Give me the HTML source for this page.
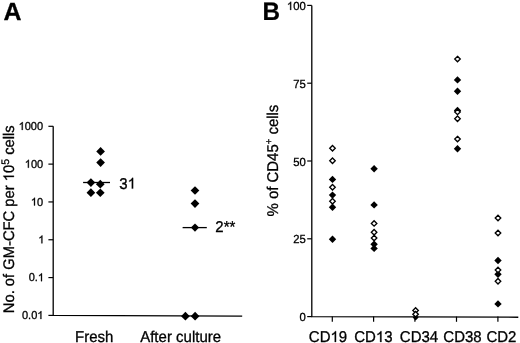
<!DOCTYPE html>
<html><head><meta charset="utf-8"><style>
html,body{margin:0;padding:0;background:#fff;width:520px;height:343px;overflow:hidden}
svg{display:block}
text{font-family:"Liberation Sans",sans-serif;fill:#000;stroke:#000;font-kerning:none;white-space:pre;text-rendering:geometricPrecision}
svg{will-change:transform}
.h{fill-opacity:0;stroke-opacity:0}
</style></head><body>
<svg width="520" height="343" viewBox="0 0 520 343">
<path d="M332.50,175.70L336.20,179.40L332.50,183.10L328.80,179.40Z" fill="#000"/>
<path d="M332.50,191.40L336.20,195.10L332.50,198.80L328.80,195.10Z" fill="#000"/>
<path d="M332.50,203.60L336.20,207.30L332.50,211.00L328.80,207.30Z" fill="#000"/>
<path d="M332.50,235.50L336.20,239.20L332.50,242.90L328.80,239.20Z" fill="#000"/>
<path d="M374.10,165.00L377.80,168.70L374.10,172.40L370.40,168.70Z" fill="#000"/>
<path d="M374.10,201.20L377.80,204.90L374.10,208.60L370.40,204.90Z" fill="#000"/>
<path d="M374.10,240.60L377.80,244.30L374.10,248.00L370.40,244.30Z" fill="#000"/>
<path d="M374.10,244.70L377.80,248.40L374.10,252.10L370.40,248.40Z" fill="#000"/>
<path d="M415.60,314.60L418.60,317.60L415.60,320.60L412.60,317.60Z" fill="#000"/>
<path d="M457.50,76.20L461.20,79.90L457.50,83.60L453.80,79.90Z" fill="#000"/>
<path d="M457.50,87.60L461.20,91.30L457.50,95.00L453.80,91.30Z" fill="#000"/>
<path d="M457.50,106.80L461.20,110.50L457.50,114.20L453.80,110.50Z" fill="#000"/>
<path d="M457.50,145.10L461.20,148.80L457.50,152.50L453.80,148.80Z" fill="#000"/>
<path d="M498.00,256.80L501.70,260.50L498.00,264.20L494.30,260.50Z" fill="#000"/>
<path d="M498.00,270.60L501.70,274.30L498.00,278.00L494.30,274.30Z" fill="#000"/>
<path d="M498.00,300.20L501.70,303.90L498.00,307.60L494.30,303.90Z" fill="#000"/>
<path d="M332.50,145.45L335.25,148.20L332.50,150.95L329.75,148.20Z" fill="#fff" stroke="#000" stroke-width="1.35"/>
<path d="M332.50,157.95L335.25,160.70L332.50,163.45L329.75,160.70Z" fill="#fff" stroke="#000" stroke-width="1.35"/>
<path d="M332.50,184.55L335.25,187.30L332.50,190.05L329.75,187.30Z" fill="#fff" stroke="#000" stroke-width="1.35"/>
<path d="M332.50,198.45L335.25,201.20L332.50,203.95L329.75,201.20Z" fill="#fff" stroke="#000" stroke-width="1.35"/>
<path d="M374.10,220.65L376.85,223.40L374.10,226.15L371.35,223.40Z" fill="#fff" stroke="#000" stroke-width="1.35"/>
<path d="M374.10,229.45L376.85,232.20L374.10,234.95L371.35,232.20Z" fill="#fff" stroke="#000" stroke-width="1.35"/>
<path d="M374.10,235.35L376.85,238.10L374.10,240.85L371.35,238.10Z" fill="#fff" stroke="#000" stroke-width="1.35"/>
<path d="M415.60,307.65L418.35,310.40L415.60,313.15L412.85,310.40Z" fill="#fff" stroke="#000" stroke-width="1.35"/>
<path d="M415.60,311.55L418.35,314.30L415.60,317.05L412.85,314.30Z" fill="#fff" stroke="#000" stroke-width="1.35"/>
<path d="M457.50,56.35L460.25,59.10L457.50,61.85L454.75,59.10Z" fill="#fff" stroke="#000" stroke-width="1.35"/>
<path d="M457.50,109.15L460.25,111.90L457.50,114.65L454.75,111.90Z" fill="#fff" stroke="#000" stroke-width="1.35"/>
<path d="M457.50,116.05L460.25,118.80L457.50,121.55L454.75,118.80Z" fill="#fff" stroke="#000" stroke-width="1.35"/>
<path d="M457.50,136.35L460.25,139.10L457.50,141.85L454.75,139.10Z" fill="#fff" stroke="#000" stroke-width="1.35"/>
<path d="M498.00,215.25L500.75,218.00L498.00,220.75L495.25,218.00Z" fill="#fff" stroke="#000" stroke-width="1.35"/>
<path d="M498.00,230.25L500.75,233.00L498.00,235.75L495.25,233.00Z" fill="#fff" stroke="#000" stroke-width="1.35"/>
<path d="M498.00,267.15L500.75,269.90L498.00,272.65L495.25,269.90Z" fill="#fff" stroke="#000" stroke-width="1.35"/>
<path d="M498.00,278.45L500.75,281.20L498.00,283.95L495.25,281.20Z" fill="#fff" stroke="#000" stroke-width="1.35"/>
<path d="M53.2,126.3V315.4L242.2,316.1" fill="none" stroke="#000" stroke-width="1.3"/>
<path d="M48.4,126.30H53.2" stroke="#000" stroke-width="1.2"/>
<path d="M48.4,164.12H53.2" stroke="#000" stroke-width="1.2"/>
<path d="M48.4,201.94H53.2" stroke="#000" stroke-width="1.2"/>
<path d="M48.4,239.76H53.2" stroke="#000" stroke-width="1.2"/>
<path d="M48.4,277.58H53.2" stroke="#000" stroke-width="1.2"/>
<path d="M48.4,315.40H53.2" stroke="#000" stroke-width="1.2"/>
<path d="M100.60,147.05L104.95,151.40L100.60,155.75L96.25,151.40Z" fill="#000"/>
<path d="M100.60,158.25L104.95,162.60L100.60,166.95L96.25,162.60Z" fill="#000"/>
<path d="M90.90,188.35L95.25,192.70L90.90,197.05L86.55,192.70Z" fill="#000"/>
<path d="M100.30,188.40L104.65,192.75L100.30,197.10L95.95,192.75Z" fill="#000"/>
<path d="M100.30,179.85L104.65,184.20L100.30,188.55L95.95,184.20Z" fill="#000"/>
<path d="M90.90,178.25L95.25,182.60L90.90,186.95L86.55,182.60Z" fill="#000"/>
<path d="M83.1,182.5H110.0" stroke="#000" stroke-width="1.3"/>
<path d="M195.00,186.15L199.35,190.50L195.00,194.85L190.65,190.50Z" fill="#000"/>
<path d="M195.00,199.25L199.35,203.60L195.00,207.95L190.65,203.60Z" fill="#000"/>
<path d="M185.40,311.85L189.75,316.20L185.40,320.55L181.05,316.20Z" fill="#000"/>
<path d="M195.10,311.85L199.45,316.20L195.10,320.55L190.75,316.20Z" fill="#000"/>
<path d="M182.6,227.6H206.8" stroke="#000" stroke-width="1.3"/>
<path d="M195.00,223.50L199.10,227.60L195.00,231.70L190.90,227.60Z" fill="#000"/>
<path d="M311.8,5.4V316.6L518.3,317.25" fill="none" stroke="#000" stroke-width="1.3"/>
<path d="M307.2,316.60H311.8" stroke="#000" stroke-width="1.2"/>
<path d="M307.2,238.80H311.8" stroke="#000" stroke-width="1.2"/>
<path d="M307.2,161.00H311.8" stroke="#000" stroke-width="1.2"/>
<path d="M307.2,83.20H311.8" stroke="#000" stroke-width="1.2"/>
<path d="M307.2,5.40H311.8" stroke="#000" stroke-width="1.2"/>
<path d="M332.3,316.6V321.8" stroke="#000" stroke-width="1.2"/>
<path d="M373.6,316.6V321.8" stroke="#000" stroke-width="1.2"/>
<path d="M414.9,316.6V321.8" stroke="#000" stroke-width="1.2"/>
<path d="M456.5,316.6V321.8" stroke="#000" stroke-width="1.2"/>
<path d="M497.9,316.6V321.8" stroke="#000" stroke-width="1.2"/>
<text transform="translate(3.60,19.95)" x="0.000" stroke-width="0.3"><tspan font-size="24.9" font-weight="bold">A</tspan></text>
<text transform="translate(262.50,19.70) scale(1,1.0412)" x="0.000" stroke-width="0.2"><tspan font-size="24.3" font-weight="bold">B</tspan></text>
<text transform="translate(43.10,129.90) scale(1,1.0412)" x="-24.471" stroke-width="0.3"><tspan font-size="11"><tspan class="h">1</tspan>000</tspan></text>
<path transform="translate(43.10,129.90) scale(1,1.0412)" d="M-20.37 0H-21.34V-5.9Q-21.69 -5.58 -21.97 -5.42Q-22.26 -5.26 -22.54 -5.1Q-22.83 -4.94 -23.28 -4.78V-5.68Q-22.47 -6.04 -22.16 -6.3Q-21.86 -6.56 -21.56 -6.82Q-21.25 -7.08 -21 -7.57H-20.37Z" fill="#000" stroke="#000" stroke-width="0.3"/>
<text transform="translate(43.10,167.72) scale(1,1.0412)" x="-18.353" stroke-width="0.3"><tspan font-size="11"><tspan class="h">1</tspan>00</tspan></text>
<path transform="translate(43.10,167.72) scale(1,1.0412)" d="M-14.25 0H-15.22V-5.9Q-15.57 -5.58 -15.86 -5.42Q-16.14 -5.26 -16.42 -5.1Q-16.71 -4.94 -17.16 -4.78V-5.68Q-16.35 -6.04 -16.05 -6.3Q-15.74 -6.56 -15.44 -6.82Q-15.14 -7.08 -14.88 -7.57H-14.25Z" fill="#000" stroke="#000" stroke-width="0.3"/>
<text transform="translate(43.10,205.54) scale(1,1.0412)" x="-12.235" stroke-width="0.3"><tspan font-size="11"><tspan class="h">1</tspan>0</tspan></text>
<path transform="translate(43.10,205.54) scale(1,1.0412)" d="M-8.14 0H-9.1V-5.9Q-9.45 -5.58 -9.74 -5.42Q-10.02 -5.26 -10.31 -5.1Q-10.59 -4.94 -11.04 -4.78V-5.68Q-10.23 -6.04 -9.93 -6.3Q-9.62 -6.56 -9.32 -6.82Q-9.02 -7.08 -8.77 -7.57H-8.14Z" fill="#000" stroke="#000" stroke-width="0.3"/>
<text transform="translate(44.40,243.36) scale(1,1.0412)" x="-6.118" stroke-width="0.3"><tspan font-size="11"><tspan class="h">1</tspan></tspan></text>
<path transform="translate(44.40,243.36) scale(1,1.0412)" d="M-2.02 0H-2.99V-5.9Q-3.34 -5.58 -3.62 -5.42Q-3.9 -5.26 -4.19 -5.1Q-4.47 -4.94 -4.93 -4.78V-5.68Q-4.11 -6.04 -3.81 -6.3Q-3.51 -6.56 -3.2 -6.82Q-2.9 -7.08 -2.65 -7.57H-2.02Z" fill="#000" stroke="#000" stroke-width="0.3"/>
<text transform="translate(44.00,281.18) scale(1,1.0412)" x="-15.292" stroke-width="0.3"><tspan font-size="11">0.<tspan class="h">1</tspan></tspan></text>
<path transform="translate(44.00,281.18) scale(1,1.0412)" d="M-2.02 0H-2.99V-5.9Q-3.34 -5.58 -3.62 -5.42Q-3.9 -5.26 -4.19 -5.1Q-4.47 -4.94 -4.93 -4.78V-5.68Q-4.11 -6.04 -3.81 -6.3Q-3.51 -6.56 -3.2 -6.82Q-2.9 -7.08 -2.65 -7.57H-2.02Z" fill="#000" stroke="#000" stroke-width="0.3"/>
<text transform="translate(43.40,319.00) scale(1,1.0412)" x="-21.409" stroke-width="0.3"><tspan font-size="11">0.0<tspan class="h">1</tspan></tspan></text>
<path transform="translate(43.40,319.00) scale(1,1.0412)" d="M-2.02 0H-2.99V-5.9Q-3.34 -5.58 -3.62 -5.42Q-3.9 -5.26 -4.19 -5.1Q-4.47 -4.94 -4.93 -4.78V-5.68Q-4.11 -6.04 -3.81 -6.3Q-3.51 -6.56 -3.2 -6.82Q-2.9 -7.08 -2.65 -7.57H-2.02Z" fill="#000" stroke="#000" stroke-width="0.3"/>
<text transform="translate(13.90,313.20) rotate(-90) scale(1,1.0412)" x="0.000" stroke-width="0.3"><tspan font-size="14.75">No. of GM-CFC per <tspan class="h">1</tspan>0</tspan><tspan font-size="10.5" dy="-4.898">5</tspan><tspan font-size="14.75" dy="4.898"> cells</tspan></text>
<path transform="translate(13.90,313.20) rotate(-90) scale(1,1.0412)" d="M137.45 0H136.15V-7.91Q135.68 -7.48 135.3 -7.27Q134.92 -7.05 134.54 -6.84Q134.15 -6.63 133.55 -6.41V-7.61Q134.64 -8.1 135.04 -8.45Q135.45 -8.8 135.86 -9.14Q136.26 -9.49 136.6 -10.15H137.45Z" fill="#000" stroke="#000" stroke-width="0.3"/>
<text transform="translate(75.00,341.70) scale(1,1.0412)" x="0.000" stroke-width="0.3"><tspan font-size="15">Fresh</tspan></text>
<text transform="translate(140.20,341.50) scale(1,1.0412)" x="0.000" stroke-width="0.3"><tspan font-size="15">After culture</tspan></text>
<text transform="translate(119.20,188.60) scale(1,1.0412)" x="0.000" stroke-width="0.3"><tspan font-size="15">3<tspan class="h">1</tspan></tspan></text>
<path transform="translate(119.20,188.60) scale(1,1.0412)" d="M13.93 0H12.61V-8.04Q12.14 -7.61 11.75 -7.39Q11.36 -7.17 10.97 -6.95Q10.58 -6.74 9.97 -6.52V-7.74Q11.07 -8.24 11.49 -8.59Q11.9 -8.95 12.32 -9.3Q12.73 -9.65 13.07 -10.32H13.93Z" fill="#000" stroke="#000" stroke-width="0.3"/>
<text transform="translate(215.30,232.10) scale(1,1.0412)" x="0.000" stroke-width="0.3"><tspan font-size="15">2**</tspan></text>
<text transform="translate(305.80,321.10) scale(1,1.0412)" x="-6.285" stroke-width="0.3"><tspan font-size="11.3">0</tspan></text>
<text transform="translate(305.80,243.30) scale(1,1.0412)" x="-12.569" stroke-width="0.3"><tspan font-size="11.3">25</tspan></text>
<text transform="translate(305.80,165.50) scale(1,1.0412)" x="-12.569" stroke-width="0.3"><tspan font-size="11.3">50</tspan></text>
<text transform="translate(305.80,87.70) scale(1,1.0412)" x="-12.569" stroke-width="0.3"><tspan font-size="11.3">75</tspan></text>
<text transform="translate(305.80,9.90) scale(1,1.0412)" x="-18.854" stroke-width="0.3"><tspan font-size="11.3"><tspan class="h">1</tspan>00</tspan></text>
<path transform="translate(305.80,9.90) scale(1,1.0412)" d="M-14.64 0H-15.64V-6.06Q-16 -5.73 -16.29 -5.57Q-16.58 -5.4 -16.87 -5.24Q-17.17 -5.08 -17.63 -4.91V-5.83Q-16.8 -6.21 -16.48 -6.47Q-16.17 -6.74 -15.86 -7.01Q-15.55 -7.27 -15.29 -7.77H-14.64Z" fill="#000" stroke="#000" stroke-width="0.3"/>
<text transform="translate(308.80,341.90) scale(1,1.0412)" x="0.000" stroke-width="0.3"><tspan font-size="15">CD<tspan class="h">1</tspan>9</tspan></text>
<path transform="translate(308.80,341.90) scale(1,1.0412)" d="M27.25 0H25.94V-8.04Q25.46 -7.61 25.07 -7.39Q24.68 -7.17 24.29 -6.95Q23.91 -6.74 23.29 -6.52V-7.74Q24.4 -8.24 24.81 -8.59Q25.22 -8.95 25.64 -9.3Q26.05 -9.65 26.4 -10.32H27.25Z" fill="#000" stroke="#000" stroke-width="0.3"/>
<text transform="translate(354.20,341.90) scale(1,1.0412)" x="0.000" stroke-width="0.3"><tspan font-size="15">CD<tspan class="h">1</tspan>3</tspan></text>
<path transform="translate(354.20,341.90) scale(1,1.0412)" d="M27.25 0H25.94V-8.04Q25.46 -7.61 25.07 -7.39Q24.68 -7.17 24.29 -6.95Q23.91 -6.74 23.29 -6.52V-7.74Q24.4 -8.24 24.81 -8.59Q25.22 -8.95 25.64 -9.3Q26.05 -9.65 26.4 -10.32H27.25Z" fill="#000" stroke="#000" stroke-width="0.3"/>
<text transform="translate(399.80,341.90) scale(1,1.0412)" x="0.000" stroke-width="0.3"><tspan font-size="15">CD34</tspan></text>
<text transform="translate(443.30,341.90) scale(1,1.0412)" x="0.000" stroke-width="0.3"><tspan font-size="15">CD38</tspan></text>
<text transform="translate(486.40,341.90) scale(1,1.0412)" x="0.000" stroke-width="0.3"><tspan font-size="15">CD2</tspan></text>
<text transform="translate(277.60,216.50) rotate(-90) scale(1,1.0412)" x="0.000" stroke-width="0.3"><tspan font-size="14.95">% of CD45</tspan><tspan font-size="9.5" dy="-5.283">+</tspan><tspan font-size="14.95" dy="5.283"> cells</tspan></text>
</svg>
</body></html>
